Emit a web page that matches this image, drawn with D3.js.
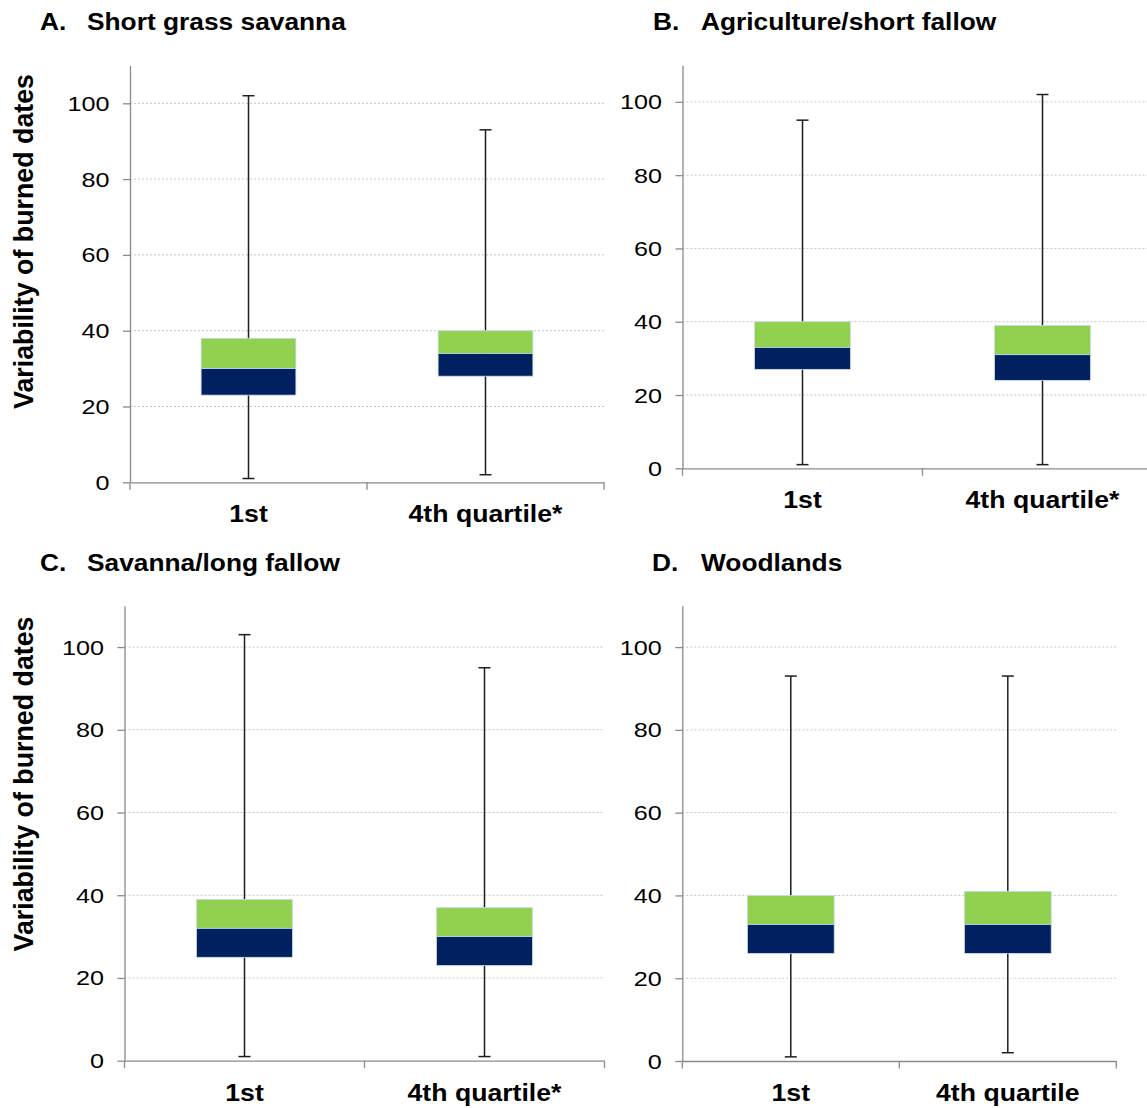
<!DOCTYPE html>
<html>
<head>
<meta charset="utf-8">
<script src="https://cdn.jsdelivr.net/npm/d3@7"></script>
<style>
  body { margin: 0; background: #fff; }
  svg { display: block; }
  text { font-family: "Liberation Sans", Arial, Helvetica, sans-serif; fill: #000; }
</style>
</head>
<body>
<svg id="chart" width="1147" height="1108"></svg>
<script>
// Box-plot statistics per land-cover class: [1st quartile, 4th quartile]
const panelLetters = ["A.", "B.", "C.", "D."];
const panelNames = ["Short grass savanna", "Agriculture/short fallow", "Savanna/long fallow", "Woodlands"];
const categories = [
  ["1st", "4th quartile*"],
  ["1st", "4th quartile*"],
  ["1st", "4th quartile*"],
  ["1st", "4th quartile"]
];
const minValues    = [[1, 2],    [1, 1],    [1, 1],    [1, 2]];
const q1Values     = [[23, 28],  [27, 24],  [25, 23],  [26, 26]];
const medianValues = [[30, 34],  [33, 31],  [32, 30],  [33, 33]];
const q3Values     = [[38, 40],  [40, 39],  [39, 37],  [40, 41]];
const maxValues    = [[102, 93], [95, 102], [103, 95], [93, 93]];
const yTicks = [0, 20, 40, 60, 80, 100];
const yMax = 110;
const yTitle = "Variability of burned dates";

const GREEN = "#92d050", NAVY = "#002060", AXIS = "#8a8a8a";

// Frame of each panel on the page
const frames = [
  { x0: 130,   x1: 604,    yTop: 65.4,  yBottom: 482.3,  titleY: 30,    letterX: 40,  nameX: 87,  yLabel: [33, 241.5] },
  { x0: 682.5, x1: 1162.5, yTop: 65.2,  yBottom: 468.3,  titleY: 30,    letterX: 653, nameX: 701 },
  { x0: 124.5, x1: 604.5,  yTop: 605.7, yBottom: 1060.7, titleY: 570.7, letterX: 40,  nameX: 87,  yLabel: [33, 784] },
  { x0: 682.3, x1: 1116.3, yTop: 605.7, yBottom: 1061,   titleY: 570.7, letterX: 652, nameX: 701 }
];

const svg = d3.select("#chart");

frames.forEach((f, p) => {
  const g = svg.append("g");
  const x = d3.scaleBand().domain(categories[p]).range([f.x0, f.x1]).paddingInner(0).paddingOuter(0);
  const y = d3.scaleLinear().domain([0, yMax]).range([f.yBottom, f.yTop]);
  const boxW = x.bandwidth() * 0.4;

  // Panel title
  g.append("text").attr("transform", `translate(${f.letterX},${f.titleY}) scale(1.12,1)`)
    .style("font-size", "23.5px").style("font-weight", "bold").text(panelLetters[p]);
  g.append("text").attr("transform", `translate(${f.nameX},${f.titleY}) scale(1.12,1)`)
    .style("font-size", "23.5px").style("font-weight", "bold").text(panelNames[p]);

  // Dotted gridlines
  g.append("g").selectAll("line").data(yTicks.filter(t => t > 0)).join("line")
    .attr("x1", f.x0).attr("x2", f.x1)
    .attr("y1", d => y(d)).attr("y2", d => y(d))
    .attr("stroke", "#c4c4c4").attr("stroke-width", 1).attr("stroke-dasharray", "2,2");

  // Whiskers and boxes
  const rows = categories[p].map((c, i) => ({
    c, min: minValues[p][i], q1: q1Values[p][i], med: medianValues[p][i],
    q3: q3Values[p][i], max: maxValues[p][i]
  }));
  const boxes = g.append("g").selectAll("g").data(rows).join("g");
  boxes.each(function (d) {
    const b = d3.select(this);
    const cx = x(d.c) + x.bandwidth() / 2;
    b.append("line").attr("x1", cx).attr("x2", cx).attr("y1", y(d.min)).attr("y2", y(d.max))
      .attr("stroke", "#1e1e1e").attr("stroke-width", 1.5);
    [d.min, d.max].forEach(v => {
      b.append("line").attr("x1", cx - 6).attr("x2", cx + 6).attr("y1", y(v)).attr("y2", y(v))
        .attr("stroke", "#1e1e1e").attr("stroke-width", 1.5);
    });
    b.append("rect").attr("x", cx - boxW / 2).attr("width", boxW)
      .attr("y", y(d.q3)).attr("height", y(d.med) - y(d.q3))
      .attr("fill", GREEN).attr("stroke", "#c9dcef").attr("stroke-width", 0.8);
    b.append("rect").attr("x", cx - boxW / 2).attr("width", boxW)
      .attr("y", y(d.med)).attr("height", y(d.q1) - y(d.med))
      .attr("fill", NAVY).attr("stroke", "#c9dcef").attr("stroke-width", 0.8);
  });

  // Y axis
  const yAxis = g.append("g").attr("transform", `translate(${f.x0},0)`)
    .call(d3.axisLeft(y).tickValues(yTicks).tickSize(7).tickSizeOuter(0));
  yAxis.select(".domain").attr("stroke", AXIS).attr("stroke-width", 1.3);
  yAxis.selectAll(".tick line").attr("stroke", AXIS).attr("stroke-width", 1.3);
  yAxis.selectAll(".tick text")
    .attr("x", -20.6 / 1.26).attr("dy", "0.35em").attr("transform", "scale(1.26,1)")
    .attr("fill", "#000").style("font-size", "20px").style("font-family", null);

  // X axis: category labels centred under each band, ticks on band edges
  const xAxis = g.append("g").attr("transform", `translate(0,${f.yBottom})`)
    .call(d3.axisBottom(x).tickSize(0).tickSizeOuter(0));
  xAxis.select(".domain").attr("stroke", AXIS).attr("stroke-width", 1.3);
  xAxis.selectAll(".tick text")
    .attr("y", 0).attr("dy", 0)
    .attr("transform", "translate(0,40) scale(1.11,1)")
    .attr("fill", "#000").style("font-size", "24px").style("font-weight", "bold").style("font-family", null);
  const edges = categories[p].map(c => x(c)).concat([f.x1]);
  xAxis.append("g").selectAll("line").data(edges).join("line")
    .attr("x1", d => d).attr("x2", d => d).attr("y1", 0).attr("y2", 7.5)
    .attr("stroke", AXIS).attr("stroke-width", 1.3);

  // Y axis title on the left-hand panels
  if (f.yLabel) {
    g.append("text")
      .attr("transform", `translate(${f.yLabel[0]},${f.yLabel[1]}) rotate(-90)`)
      .attr("text-anchor", "middle")
      .style("font-size", "26.8px").style("font-weight", "bold")
      .text(yTitle);
  }
});
</script>
</body>
</html>
